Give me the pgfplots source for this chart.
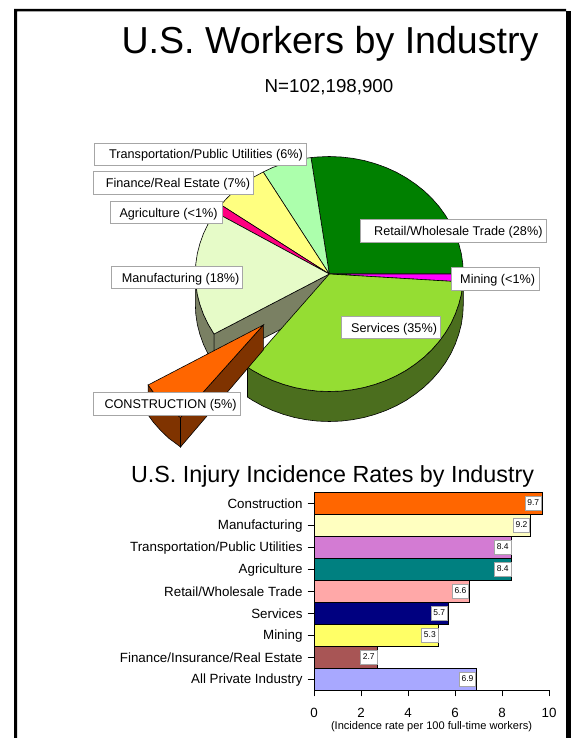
\documentclass[border=0pt]{standalone}
\usepackage{fontspec}
\setmainfont{Liberation Sans}
\usepackage{pgfplots}
\pgfplotsset{compat=1.18}
\definecolor{cRetail}{HTML}{008000}
\definecolor{cMining}{HTML}{FF00FF}
\definecolor{cServ}{HTML}{95DD33}
\definecolor{cServS}{HTML}{4B6E1E}
\definecolor{cCon}{HTML}{FF6600}
\definecolor{cConS}{HTML}{7F3300}
\definecolor{cMan}{HTML}{E6FBC8}
\definecolor{cManS}{HTML}{7A8063}
\definecolor{cAgri}{HTML}{FF0080}
\definecolor{cFin}{HTML}{FFFF80}
\definecolor{cTrans}{HTML}{ACFFAC}
\newcommand{\lab}[6]{% x0 y0 x1 y1 textx text
  \draw[draw=black!35,fill=white,line width=0.9pt] (axis cs:#1,#2) rectangle (axis cs:#3,#4);
  \node[anchor=west,inner sep=0pt,font=\fontsize{12.7}{15}\selectfont] at (axis cs:#5,{(#2+#4)/2+1.3}) {#6};}
\begin{document}
\begin{tikzpicture}[x=1bp,y=1bp]
\useasboundingbox (0,0) rectangle (571,738);
\begin{axis}[at={(0,0)},anchor=south west,scale only axis,width=571bp,height=738bp,
  xmin=0,xmax=571,ymin=0,ymax=738,y dir=reverse,hide axis,clip=false]
% frame
\addplot[fill=black,draw=none] coordinates {(14,738)(14,9)(566,9)(566,11.5)(17,11.5)(17,738)} -- cycle;
\addplot[fill=black,draw=none] coordinates {(566,11)(571,11)(571,738)(566,738)} -- cycle;
% manufacturing outer side
\addplot[fill=cManS,draw=black,line width=0.6pt] coordinates {(195.3,274)(195.8,284.2)(197.3,294.4)(199.9,304.4)(203.4,314.2)(207.9,323.7)(213.3,332.8)(214.1,334)(214.1,364)(213.3,362.8)(207.9,353.7)(203.4,344.2)(199.9,334.4)(197.3,324.4)(195.8,314.2)(195.3,304)} -- cycle;
% manufacturing cut face
\addplot[fill=cManS,draw=black,line width=0.6pt] coordinates {(329.3,274)(214.1,334)(214.1,364)(329.3,304)} -- cycle;
% services outer side
\addplot[fill=cServS,draw=black,line width=0.6pt] coordinates {(463.3,274)(462.8,284.2)(461.3,294.4)(458.7,304.4)(455.2,314.2)(450.8,323.7)(445.4,332.8)(439.1,341.4)(432.0,349.5)(424.1,357.1)(415.4,364.0)(406.2,370.3)(396.3,375.8)(385.9,380.5)(375.1,384.4)(364.0,387.5)(352.6,389.7)(341.0,391.1)(329.3,391.5)(317.6,391.1)(306.0,389.7)(294.6,387.5)(283.5,384.4)(272.7,380.5)(262.3,375.8)(252.4,370.3)(247.5,367.1)
 (247.5,397.1)(252.4,400.3)(262.3,405.8)(272.7,410.5)(283.5,414.4)(294.6,417.5)(306.0,419.7)(317.6,421.1)(329.3,421.5)(341.0,421.1)(352.6,419.7)(364.0,417.5)(375.1,414.4)(385.9,410.5)(396.3,405.8)(406.2,400.3)(415.4,394.0)(424.1,387.1)(432.0,379.5)(439.1,371.4)(445.4,362.8)(450.8,353.7)(455.2,344.2)(458.7,334.4)(461.3,324.4)(462.8,314.2)(463.3,304)} -- cycle;
% top slices
\addplot[fill=cRetail,draw=black,line width=0.6pt] coordinates {(329.3,274)(463.3,274)(462.8,263.8)(461.3,253.6)(458.7,243.6)(455.2,233.8)(450.8,224.3)(445.4,215.3)(439.1,206.6)(432.0,198.5)(424.1,190.9)(415.4,184.0)(406.2,177.8)(396.3,172.2)(385.9,167.5)(375.1,163.6)(364.0,160.5)(352.6,158.3)(341.0,157.0)(329.3,156.5)(317.6,157.0)(311.0,157.6)} -- cycle;
\addplot[fill=cTrans,draw=black,line width=0.6pt] coordinates {(329.3,274)(311.0,157.6)(306.0,158.3)(294.6,160.5)(283.5,163.6)(272.7,167.5)(263.2,172)} -- cycle;
\addplot[fill=cFin,draw=black,line width=0.6pt] coordinates {(329.3,274)(263.2,172)(252.4,177.8)(243.2,184.0)(234.5,190.9)(226.6,198.5)(220.9,204.9)} -- cycle;
\addplot[fill=cAgri,draw=black,line width=0.6pt] coordinates {(329.3,274)(220.9,204.9)(218.2,208.3)(215.3,212.3)} -- cycle;
\addplot[fill=cMan,draw=black,line width=0.6pt] coordinates {(329.3,274)(215.3,212.3)(213.3,215.3)(207.9,224.3)(203.4,233.8)(199.9,243.6)(197.3,253.6)(195.8,263.8)(195.3,274)(195.8,284.2)(197.3,294.4)(199.9,304.4)(203.4,314.2)(207.9,323.7)(213.3,332.8)(214.1,334)} -- cycle;
\addplot[fill=cMining,draw=black,line width=0.6pt] coordinates {(329.3,274)(463.3,274)(463.0,282)} -- cycle;
\addplot[fill=cServ,draw=black,line width=0.6pt] coordinates {(329.3,274)(463.0,282)(462.8,284.2)(461.3,294.4)(458.7,304.4)(455.2,314.2)(450.8,323.7)(445.4,332.8)(439.1,341.4)(432.0,349.5)(424.1,357.1)(415.4,364.0)(406.2,370.3)(396.3,375.8)(385.9,380.5)(375.1,384.4)(364.0,387.5)(352.6,389.7)(341.0,391.1)(329.3,391.5)(317.6,391.1)(306.0,389.7)(294.6,387.5)(283.5,384.4)(272.7,380.5)(262.3,375.8)(252.4,370.3)(247.5,367.1)} -- cycle;
% construction wedge
\addplot[fill=cConS,draw=black,line width=0.6pt] coordinates {(148.1,385)(153.5,392.4)(160.7,400.5)(168.6,408.1)(177.2,415.0)(180.5,417.5)(180.5,447)(177.2,444.5)(168.6,438.1)(160.7,430.5)(153.5,422.4)(148.1,415)} -- cycle;
\addplot[fill=cConS,draw=black,line width=0.6pt] coordinates {(263.3,325)(180.5,417.5)(180.5,447)(263.3,350)} -- cycle;
\addplot[fill=cCon,draw=black,line width=0.6pt] coordinates {(263.3,325)(148.1,385)(153.5,392.4)(160.7,400.5)(168.6,408.1)(177.2,415.0)(180.5,417.5)} -- cycle;
% pie labels
\lab{94.7}{143.3}{306.7}{165.3}{109}{Transportation/Public Utilities (6\%)}
\lab{93.3}{171.7}{253.3}{194}{105.7}{Finance/Real Estate (7\%)}
\lab{110}{201.3}{222}{223.7}{119.3}{Agriculture (<1\%)}
\lab{111.3}{266.3}{242.7}{288.7}{121.7}{Manufacturing (18\%)}
\lab{360.7}{219.3}{546.7}{242}{374}{Retail/Wholesale Trade (28\%)}
\lab{451.3}{267.7}{539.3}{290.3}{460}{Mining (<1\%)}
\lab{341.7}{316.3}{440.7}{338.7}{351}{Services (35\%)}
\lab{93.3}{392.7}{240}{415.3}{104.3}{CONSTRUCTION (5\%)}
% titles
\node[font=\fontsize{37.7}{44}\selectfont] at (axis cs:330,44) {U.S. Workers by Industry};
\node[font=\fontsize{18.8}{22}\selectfont] at (axis cs:329,87.5) {N=102,198,900};
\node[font=\fontsize{23.4}{28}\selectfont] at (axis cs:332.5,476.5) {U.S. Injury Incidence Rates by Industry};
\node[font=\fontsize{11.1}{13}\selectfont] at (axis cs:431.5,727) {(Incidence rate per 100 full-time workers)};
\end{axis}
\begin{axis}[at={(314bp,48bp)},anchor=south west,scale only axis,width=235bp,height=198bp,
  xbar,bar width=21.8bp,xmin=0,xmax=10,ymin=-0.5,ymax=8.5,
  axis x line*=bottom,axis y line*=left,
  axis line style={black,line width=0.8pt,-},
  xtick={0,2,4,6,8,10},
  ytick={0,1,2,3,4,5,6,7,8},
  yticklabels={All Private Industry,Finance/Insurance/Real Estate,Mining,Services,Retail/Wholesale Trade,Agriculture,Transportation/Public Utilities,Manufacturing,Construction},
  tick style={black,line width=0.8pt},tick align=outside,major tick length=6.5bp,
  ticklabel style={font=\fontsize{13.4}{15}\selectfont},
  /pgf/number format/assume math mode=true,
  xticklabel style={yshift=-8.5bp},
  yticklabel style={xshift=-1.5bp,yshift=-1bp},
  nodes near coords,point meta=x,
  nodes near coords align={anchor=east},
  every node near coord/.append style={anchor=east,fill=white,draw=black!35,line width=0.9pt,text=black,
    font=\fontsize{8.5}{10}\selectfont,inner sep=0pt,minimum width=16.5bp,minimum height=14bp,
    /pgf/number format/fixed,/pgf/number format/fixed zerofill,/pgf/number format/precision=1},
  clip=false,bar shift=0pt,
  every axis plot/.append style={draw=black,line width=0.6pt}]
\addplot[fill=cCon] coordinates {(9.7,8)};
\addplot[fill={rgb,255:red,255;green,255;blue,192}] coordinates {(9.2,7)};
\addplot[fill={rgb,255:red,211;green,123;blue,211}] coordinates {(8.4,6)};
\addplot[fill={rgb,255:red,0;green,128;blue,128}] coordinates {(8.4,5)};
\addplot[fill={rgb,255:red,255;green,168;blue,168}] coordinates {(6.6,4)};
\addplot[fill={rgb,255:red,0;green,0;blue,128}] coordinates {(5.7,3)};
\addplot[fill={rgb,255:red,255;green,255;blue,102}] coordinates {(5.3,2)};
\addplot[fill={rgb,255:red,168;green,85;blue,85}] coordinates {(2.7,1)};
\addplot[fill={rgb,255:red,168;green,168;blue,255}] coordinates {(6.9,0)};
\end{axis}
\end{tikzpicture}
\end{document}
